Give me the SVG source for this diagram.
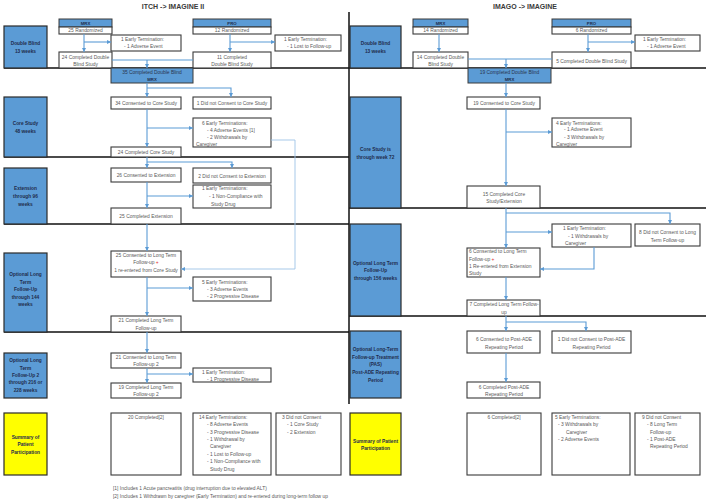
<svg xmlns="http://www.w3.org/2000/svg" width="709" height="503" viewBox="0 0 709 503">
<defs>
<marker id="a" markerUnits="userSpaceOnUse" markerWidth="4" markerHeight="4" refX="4" refY="2" orient="auto"><path d="M0,0 L4,2 L0,4 z" fill="#5B9BD5"/></marker>
<marker id="b" markerUnits="userSpaceOnUse" markerWidth="4" markerHeight="4" refX="4" refY="2" orient="auto"><path d="M0,0 L4,2 L0,4 z" fill="#5B9BD5"/></marker>
</defs>
<style>
.bx{fill:#fff;stroke:#3a3a3a;stroke-width:1.1}
.hd{fill:#5B9BD5;stroke:#3a3a3a;stroke-width:1}
.lb{fill:#5B9BD5;stroke:#2a2a2a;stroke-width:1.2}
.sm{fill:#FFFF00;stroke:#2a2a2a;stroke-width:1.2}
text{font-family:"Liberation Sans",Arial,sans-serif;font-size:4.9px;fill:#595959}
.c{text-anchor:middle}
.l{font-weight:bold;fill:#1F2D4D;font-size:4.8px;text-anchor:middle}
.h{font-weight:bold;fill:#1F2D4D;font-size:4.3px;text-anchor:middle}
.bt{fill:#2a3550}
.ti{font-weight:bold;font-size:7px;fill:#3a3a3a;text-anchor:middle}
.ln{stroke:#111;stroke-width:1.5;fill:none}
.cn{stroke:#5B9BD5;stroke-width:1.1;fill:none;marker-end:url(#a)}
.cp{stroke:#5B9BD5;stroke-width:1.1;fill:none}
.cl{stroke:#9DC3E6;stroke-width:0.9;fill:none;marker-end:url(#b)}
.r{fill:#e03030}
</style>
<rect width="709" height="503" fill="#fff"/>
<g id="titles">
<text class="ti" x="173" y="9.2">ITCH -&gt; IMAGINE II</text>
<text class="ti" x="525" y="9.2">IMAGO -&gt; IMAGINE</text>
</g>
<g id="dividers">
<path class="ln" d="M4,68 H706 M4,157 H349 M4,224 H349 M4,332 H349 M349,208 H706 M349,316 H706 M349,12 V404"/>
</g>
<g id="phase-labels-left">
<g id="L-db"><rect class="lb" x="4" y="26" width="43" height="42"/><text class="l" x="25.5" y="44.8">Double Blind</text><text class="l" x="25.5" y="52.8">13 weeks</text></g>
<g id="L-core"><rect class="lb" x="4" y="97" width="43" height="60"/><text class="l" x="25.5" y="124.8">Core Study</text><text class="l" x="25.5" y="132.8">48 weeks</text></g>
<g id="L-ext"><rect class="lb" x="4" y="168" width="43" height="56"/><text class="l" x="25.5" y="189.8">Extension</text><text class="l" x="25.5" y="197.8">through 96</text><text class="l" x="25.5" y="205.8">weeks</text></g>
<g id="L-lt"><rect class="lb" x="4" y="253" width="43" height="79"/><text class="l" x="25.5" y="275.8">Optional Long</text><text class="l" x="25.5" y="283.8">Term</text><text class="l" x="25.5" y="290.8">Follow-Up</text><text class="l" x="25.5" y="298.8">through 144</text><text class="l" x="25.5" y="305.8">weeks</text></g>
<g id="L-lt2"><rect class="lb" x="4" y="353" width="43" height="45"/><text class="l" x="25.5" y="361.8">Optional Long</text><text class="l" x="25.5" y="369.8">Term</text><text class="l" x="25.5" y="376.8">Follow-Up 2</text><text class="l" x="25.5" y="383.8">through 216 or</text><text class="l" x="25.5" y="391.8">228 weeks</text></g>
<g id="L-sum"><rect class="sm" x="4" y="413" width="43" height="62"/><text class="l" x="25.5" y="438.8">Summary of</text><text class="l" x="25.5" y="445.8">Patient</text><text class="l" x="25.5" y="453.8">Participation</text></g>
</g>
<g id="phase-labels-right">
<g id="R-db"><rect class="lb" x="350" y="26" width="51" height="42"/><text class="l" x="375.5" y="44.8">Double Blind</text><text class="l" x="375.5" y="52.8">13 weeks</text></g>
<g id="R-core"><rect class="lb" x="350" y="97" width="51" height="111"/><text class="l" x="375.5" y="150.8">Core Study is</text><text class="l" x="375.5" y="158.8">through week 72</text></g>
<g id="R-lt"><rect class="lb" x="350" y="224" width="51" height="92"/><text class="l" x="375.5" y="264.8">Optional Long Term</text><text class="l" x="375.5" y="271.8">Follow-Up</text><text class="l" x="375.5" y="279.8">through 156 weeks</text></g>
<g id="R-pade"><rect class="lb" x="350" y="331" width="51" height="67"/><text class="l" x="375.5" y="350.8">Optional Long-Term</text><text class="l" x="375.5" y="358.8">Follow-up Treatment</text><text class="l" x="375.5" y="365.8">(PAS)</text><text class="l" x="375.5" y="373.8">Post-ADE Repeating</text><text class="l" x="375.5" y="381.8">Period</text></g>
<g id="R-sum"><rect class="sm" x="350" y="413" width="51" height="62"/><text class="l" x="375.5" y="442.8">Summary of Patient</text><text class="l" x="375.5" y="449.8">Participation</text></g>
</g>
<g id="nodes-left">
<g id="n-mrx"><rect class="hd" x="59" y="19" width="53" height="8"/><rect class="bx" x="59" y="27" width="53" height="7"/><text class="h" x="85.5" y="24.6">MRX</text><text class="c" x="85.5" y="32.3">25 Randomized</text></g>
<g id="n-mrx-et"><rect class="bx" x="111" y="35" width="70" height="16"/><text x="121" y="40.8">1 Early Termination:</text><text x="124" y="47.8">- 1 Adverse Event</text></g>
<g id="n-mrx-db"><rect class="bx" x="59" y="52" width="53" height="16"/><text class="c" x="85.5" y="58.8">24 Completed Double</text><text class="c" x="85.5" y="65.8">Blind Study</text></g>
<g id="n-pro"><rect class="hd" x="193" y="19" width="78" height="8"/><rect class="bx" x="193" y="27" width="78" height="7"/><text class="h" x="232" y="24.6">PRO</text><text class="c" x="232" y="32.3">12 Randomized</text></g>
<g id="n-pro-et"><rect class="bx" x="275" y="35" width="66" height="16"/><text x="284" y="40.8">1 Early Termination:</text><text x="287" y="47.8">- 1 Lost to Follow-up</text></g>
<g id="n-pro-db"><rect class="bx" x="193" y="52" width="78" height="16"/><text class="c" x="232" y="58.8">11 Completed</text><text class="c" x="232" y="65.8">Double Blind Study</text></g>
<g id="n-db35"><rect class="hd" x="111" y="68" width="82" height="15"/><text class="c bt" x="152" y="73.8">35 Completed Double Blind</text><text class="h" x="152" y="80.8">MRX</text></g>
<g id="n-core34"><rect class="bx" x="111" y="97" width="70" height="12"/><text class="c" x="146" y="104.8">34 Consented to Core Study</text></g>
<g id="n-core-nc"><rect class="bx" x="193" y="97" width="78" height="12"/><text class="c" x="232" y="104.8">1 Did not Consent to Core Study</text></g>
<g id="n-core-et"><rect class="bx" x="193" y="118" width="78" height="29"/><text x="202" y="124.8">6 Early Terminations:</text><text x="207" y="131.8">- 4 Adverse Events [1]</text><text x="207" y="138.8">- 2 Withdrawals by</text><text x="196" y="145.8">Caregiver</text></g>
<g id="n-core24"><rect class="bx" x="111" y="147" width="70" height="10"/><text class="c" x="146" y="153.8">24 Completed Core Study</text></g>
<g id="n-ext26"><rect class="bx" x="111" y="168" width="70" height="14"/><text class="c" x="146" y="176.8">26 Consented to Extension</text></g>
<g id="n-ext-nc"><rect class="bx" x="193" y="168" width="78" height="15"/><text class="c" x="232" y="177.8">2 Did not Consent to Extension</text></g>
<g id="n-ext-et"><rect class="bx" x="193" y="185" width="78" height="23"/><text x="202" y="189.8">1 Early Terminations:</text><text x="209" y="197.8">- 1 Non-Compliance with</text><text x="211" y="205.8">Study Drug</text></g>
<g id="n-ext25"><rect class="bx" x="111" y="208" width="70" height="16"/><text class="c" x="146" y="217.8">25 Completed Extension</text></g>
<g id="n-lt25"><rect class="bx" x="111" y="251" width="70" height="26"/><text class="c" x="146" y="256.8">25 Consented to Long Term</text><text class="c" x="146" y="263.8">Follow-up <tspan class="r">+</tspan></text><text class="c" x="146" y="271.8">1 re-entered from Core Study</text></g>
<g id="n-lt-et"><rect class="bx" x="193" y="277" width="78" height="24"/><text x="202" y="283.8">5 Early Terminations:</text><text x="207" y="290.8">- 3 Adverse Events</text><text x="207" y="297.8">- 2 Progressive Disease</text></g>
<g id="n-lt21"><rect class="bx" x="111" y="316" width="70" height="16"/><text class="c" x="146" y="321.8">21 Completed Long Term</text><text class="c" x="146" y="329.8">Follow-up</text></g>
<g id="n-lt2-21"><rect class="bx" x="111" y="353" width="70" height="15"/><text class="c" x="146" y="358.8">21 Consented to Long Term</text><text class="c" x="146" y="365.8">Follow-up 2</text></g>
<g id="n-lt2-et"><rect class="bx" x="193" y="368" width="78" height="14"/><text x="202" y="373.8">1 Early Termination:</text><text x="207" y="380.8">- 1 Progressive Disease</text></g>
<g id="n-lt2-19"><rect class="bx" x="111" y="383" width="70" height="15"/><text class="c" x="146" y="388.8">19 Completed Long Term</text><text class="c" x="146" y="395.8">Follow-up 2</text></g>
<g id="n-sum-done"><rect class="bx" x="111" y="413" width="70" height="62"/><text class="c" x="146" y="418.8">20 Completed[2]</text></g>
<g id="n-sum-et"><rect class="bx" x="193" y="413" width="78" height="62"/><text x="199" y="418.8">14 Early Terminations:</text><text x="207" y="425.8">- 8 Adverse Events</text><text x="207" y="433.8">- 3 Progressive Disease</text><text x="207" y="440.8">- 1 Withdrawal by</text><text x="210" y="447.8">Caregiver</text><text x="207" y="455.8">- 1 Lost to Follow-up</text><text x="207" y="462.8">- 1 Non-Compliance with</text><text x="210" y="470.8">Study Drug</text></g>
<g id="n-sum-nc"><rect class="bx" x="276" y="413" width="65" height="62"/><text x="282" y="418.8">3 Did not Consent</text><text x="287" y="425.8">- 1 Core Study</text><text x="287" y="433.8">- 2 Extension</text></g>
</g>
<g id="nodes-right">
<g id="r-mrx"><rect class="hd" x="413" y="19" width="55" height="8"/><rect class="bx" x="413" y="27" width="55" height="7"/><text class="h" x="440.5" y="24.6">MRX</text><text class="c" x="440.5" y="32.3">14 Randomized</text></g>
<g id="r-mrx-db"><rect class="bx" x="413" y="52" width="55" height="16"/><text class="c" x="440.5" y="58.8">14 Completed Double</text><text class="c" x="440.5" y="65.8">Blind Study</text></g>
<g id="r-pro"><rect class="hd" x="552" y="19" width="79" height="8"/><rect class="bx" x="552" y="27" width="79" height="7"/><text class="h" x="591.5" y="24.6">PRO</text><text class="c" x="591.5" y="32.3">6 Randomized</text></g>
<g id="r-pro-et"><rect class="bx" x="635" y="35" width="65" height="16"/><text x="643" y="40.8">1 Early Termination:</text><text x="647" y="47.8">- 1 Adverse Event</text></g>
<g id="r-pro-db"><rect class="bx" x="552" y="52" width="79" height="16"/><text class="c" x="591.5" y="62.8">5 Completed Double Blind Study</text></g>
<g id="r-db19"><rect class="hd" x="468" y="68" width="83" height="15"/><text class="c bt" x="509.5" y="73.8">19 Completed Double Blind</text><text class="h" x="509.5" y="80.8">MRX</text></g>
<g id="r-core19"><rect class="bx" x="467" y="97" width="73" height="12"/><text class="c" x="504" y="104.8">19 Consented to Core Study</text></g>
<g id="r-core-et"><rect class="bx" x="552" y="118" width="79" height="29"/><text x="556" y="124.8">4 Early Terminations:</text><text x="564" y="130.8">- 1 Adverse Event</text><text x="564" y="138.8">- 3 Withdrawals by</text><text x="556" y="145.8">Caregiver</text></g>
<g id="r-core15"><rect class="bx" x="467" y="186" width="73" height="22"/><text class="c" x="504" y="195.8">15 Completed Core</text><text class="c" x="504" y="202.8">Study/Extension</text></g>
<g id="r-lt-et"><rect class="bx" x="552" y="224" width="79" height="23"/><text x="563" y="229.8">1 Early Termination:</text><text x="568" y="237.8">- 1 Withdrawals by</text><text x="565" y="244.8">Caregiver</text></g>
<g id="r-lt-nc"><rect class="bx" x="635" y="224" width="65" height="22"/><text class="c" x="667.5" y="233.8">8 Did not Consent to Long</text><text class="c" x="667.5" y="241.8">Term Follow-up</text></g>
<g id="r-lt6"><rect class="bx" x="467" y="248" width="73" height="29"/><text x="469" y="252.8">6 Consented to Long Term</text><text x="469" y="260.8">Follow-up <tspan class="r">+</tspan></text><text x="469" y="267.8">1 Re-entered from Extension</text><text x="469" y="274.8">Study</text></g>
<g id="r-lt7"><rect class="bx" x="467" y="300" width="73" height="16"/><text class="c" x="504" y="305.8">7 Completed Long Term Follow-</text><text class="c" x="504" y="313.8">up</text></g>
<g id="r-pade6"><rect class="bx" x="467" y="331" width="73" height="22"/><text class="c" x="504" y="340.8">6 Consented to Post-ADE</text><text class="c" x="504" y="348.8">Repeating Period</text></g>
<g id="r-pade-nc"><rect class="bx" x="552" y="331" width="79" height="22"/><text class="c" x="591.5" y="340.8">1 Did not Consent to Post-ADE</text><text class="c" x="591.5" y="348.8">Repeating Period</text></g>
<g id="r-pade-done"><rect class="bx" x="467" y="382" width="73" height="16"/><text class="c" x="504" y="388.8">6 Completed Post-ADE</text><text class="c" x="504" y="395.8">Repeating Period</text></g>
<g id="r-sum-done"><rect class="bx" x="467" y="413" width="74" height="62"/><text class="c" x="504" y="418.8">6 Completed[2]</text></g>
<g id="r-sum-et"><rect class="bx" x="552" y="413" width="78" height="62"/><text x="555" y="418.8">5 Early Terminations:</text><text x="558" y="425.8">- 3 Withdrawals by</text><text x="566" y="433.8">Caregiver</text><text x="558" y="440.8">- 2 Adverse Events</text></g>
<g id="r-sum-nc"><rect class="bx" x="635" y="413" width="65" height="62"/><text x="642" y="418.8">9 Did not Consent</text><text x="647" y="425.8">- 8 Long Term</text><text x="650" y="433.8">Follow-up</text><text x="647" y="440.8">- 1 Post-ADE</text><text x="650" y="447.8">Repeating Period</text></g>
</g>
<g id="connectors">
<path class="cn" d="M84,34 V52"/>
<path class="cn" d="M84,42 H111"/>
<path class="cn" d="M230,34 V52"/>
<path class="cn" d="M230,42 H275"/>
<path class="cp" d="M112,60 H193"/>
<path class="cn" d="M147,60 V68"/>
<path class="cn" d="M147,83 V97"/>
<path class="cn" d="M147,88 H231 V97"/>
<path class="cn" d="M147,109 V147"/>
<path class="cn" d="M147,128 H193"/>
<path class="cn" d="M147,157 V168"/>
<path class="cn" d="M147,162 H232 V168"/>
<path class="cn" d="M147,182 V208"/>
<path class="cn" d="M147,196 H193"/>
<path class="cn" d="M147,224 V251"/>
<path class="cl" d="M271,140 H295 V269 H181"/>
<path class="cn" d="M147,277 V316"/>
<path class="cn" d="M147,288 H193"/>
<path class="cn" d="M147,332 V353"/>
<path class="cn" d="M147,368 V383"/>
<path class="cn" d="M147,374 H193"/>
<path class="cn" d="M439,34 V52"/>
<path class="cn" d="M588,34 V52"/>
<path class="cn" d="M588,42 H635"/>
<path class="cp" d="M468,59 H552"/>
<path class="cn" d="M506,59 V68"/>
<path class="cn" d="M506,83 V97"/>
<path class="cn" d="M506,109 V186"/>
<path class="cn" d="M506,132 H552"/>
<path class="cn" d="M506,208 V248"/>
<path class="cn" d="M506,213 H670 V224"/>
<path class="cn" d="M506,232 H552"/>
<path class="cn" d="M594,247 V269 H540"/>
<path class="cn" d="M506,277 V300"/>
<path class="cn" d="M506,316 V331"/>
<path class="cn" d="M506,322 H586 V331"/>
<path class="cn" d="M506,353 V382"/>
</g>
<g id="footnotes">
<text x="113" y="489.8">[1] Includes 1 Acute pancreatitis (drug interruption due to elevated ALT)</text>
<text x="113" y="497.8">[2] Includes 1 Withdrawn by caregiver (Early Termination) and re-entered during long-term follow up</text>
</g>
</svg>
